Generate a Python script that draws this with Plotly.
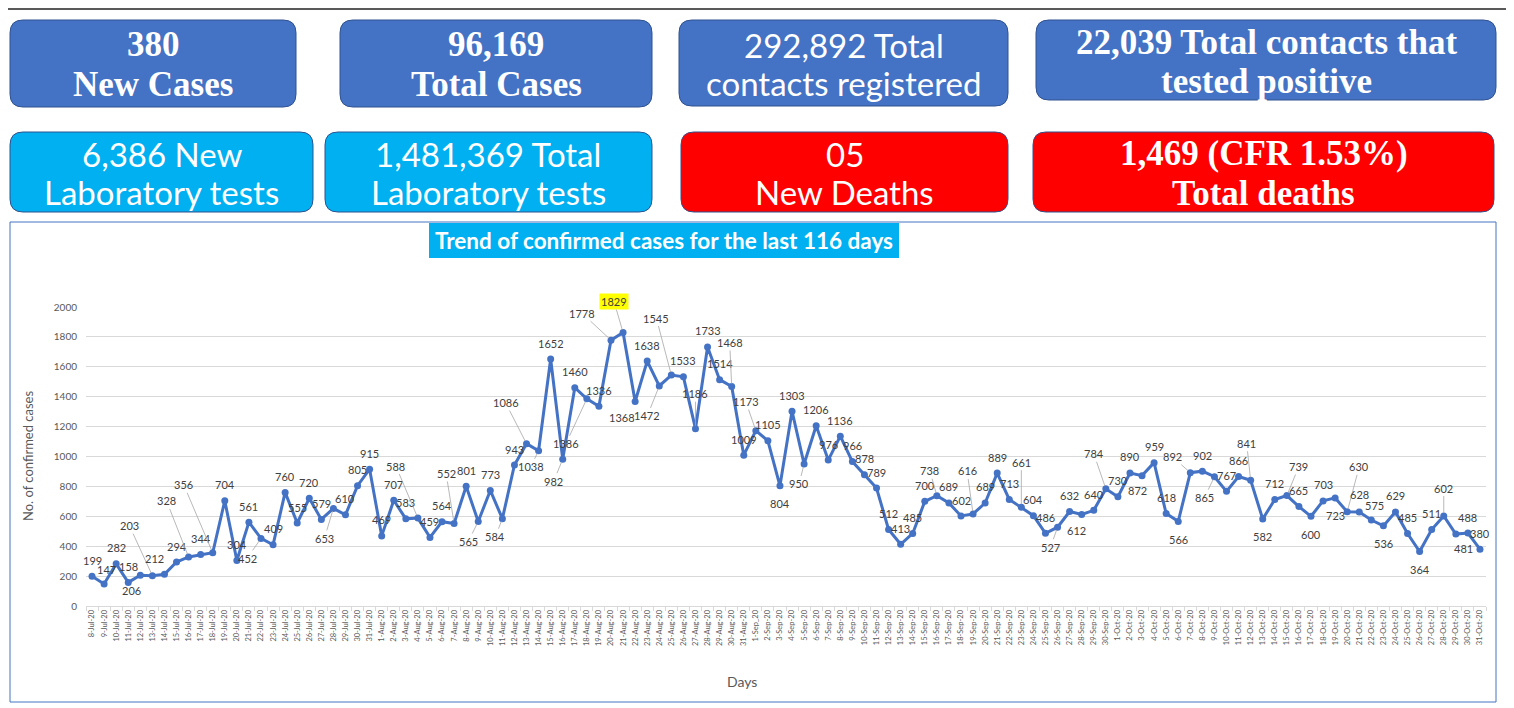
import pandas as pd
import plotly.graph_objects as go

# ---------------- data ----------------
days = [d.strftime("%-d-%b-%y") for d in pd.date_range("2020-07-08", "2020-10-31")]
days = [("1-Sep_20" if d == "1-Sep-20" else d) for d in days]

jul_cases = [199, 147, 282, 158, 206, 203, 212, 294, 328, 344, 356, 704, 304, 561,
             452, 409, 760, 555, 720, 579, 653, 610, 805, 915]
aug_cases = [469, 707, 583, 588, 459, 564, 552, 801, 565, 773, 584, 943, 1086, 1038,
             1652, 982, 1460, 1386, 1336, 1778, 1829, 1368, 1638, 1472, 1545, 1533,
             1186, 1733, 1514, 1468, 1009]
sep_cases = [1173, 1105, 804, 1303, 950, 1206, 976, 1136, 966, 878, 789, 512, 413, 485,
             700, 738, 689, 602, 616, 689, 889, 713, 661, 604, 486, 527, 632, 612, 640, 784]
oct_cases = [730, 890, 872, 959, 618, 566, 892, 902, 865, 767, 866, 841, 582, 712, 739,
             665, 600, 703, 723, 630, 628, 575, 536, 629, 485, 364, 511, 602, 481, 488, 380]
cases = jul_cases + aug_cases + sep_cases + oct_cases

y_ticks = list(range(0, 2001, 200))

kpi_lines = [
    ["380", "New Cases"],
    ["96,169", "Total Cases"],
    ["292,892 Total", "contacts registered"],
    ["22,039 Total contacts that", "tested positive"],
    ["6,386 New", "Laboratory tests"],
    ["1,481,369 Total", "Laboratory tests"],
    ["05", "New Deaths"],
    ["1,469 (CFR 1.53%)", "Total deaths"],
]

# ---------------- layout helpers (styling only) ----------------
# the page body adds an 8px margin; coordinates below are page pixels
OFF = 8
W_FIG, H_FIG = 1514 - OFF, 708 - OFF
PLOT_L, PLOT_R, PLOT_T, PLOT_B = 86, 1486, 307, 606  # page pixels
PW, PH = PLOT_R - PLOT_L, PLOT_B - PLOT_T
M_L, M_T = PLOT_L - OFF, PLOT_T - OFF
M_R, M_B = W_FIG - (PLOT_R - OFF), H_FIG - (PLOT_B - OFF)


def px(x):
    return (x - PLOT_L) / PW


def py(y):
    return (PLOT_B - y) / PH


BLUE, CYAN, RED = "#4472C4", "#00B0F0", "#FF0000"
kpi_style = [
    ((10, 20, 296, 107), BLUE, "serif", (44, 84)),
    ((340, 20, 652, 107), BLUE, "serif", (44, 84)),
    ((679, 20, 1008, 106), BLUE, "sans", (45, 83)),
    ((1036, 20, 1496, 100), BLUE, "serif", (42, 81)),
    ((10, 132, 313, 212), CYAN, "sans", (154, 192)),
    ((325, 132, 652, 212), CYAN, "sans", (154, 192)),
    ((681, 132, 1008, 212), RED, "sans", (154, 192)),
    ((1033, 132, 1494, 212), RED, "serif", (154, 193)),
]

# label offsets in pixels (dx, dy) and whether a leader line is drawn
label_override = {
    1: (2, -15, False), 4: (-9, 15, False), 5: (-23, -50, True), 6: (-10, -16, False),
    8: (-22, -56, True), 10: (-29, -68, True), 14: (-14, 20, True), 20: (-9, 30, True),
    27: (-22, -52, True), 30: (-8, -50, True), 32: (-10, 20, True), 34: (-7, 18, True),
    36: (-21, -41, True), 37: (-8, 16, True), 39: (-9, 22, True), 41: (-21, 45, True),
    43: (-29, -27, True), 44: (-9, -31, True), 45: (-13, 16, False), 47: (-12, 30, True),
    48: (-15, -57, True), 50: (0, -35, True), 53: (-2, -44, True), 55: (-10, -29, True),
    57: (0, 18, False), 59: (-5, 20, True), 70: (-7, -25, True), 73: (-6, -43, True),
    77: (0, -45, True), 80: (-7, 20, True), 82: (-5, 16, False), 84: (-12, -35, True),
    87: (-5, 15, False), 90: (0, 18, False), 91: (-18, -16, True), 93: (-10, 21, True),
    96: (-4, -37, True), 97: (0, 18, False), 99: (12, -29, True), 101: (0, 18, False),
    103: (0, 18, False), 104: (12, -45, True), 105: (0, -18, False), 106: (3, -15, False),
    107: (0, 18, False), 110: (0, 18, False), 112: (0, -28, True), 113: (8, 14, False),
}
highlight_idx = 44

fig = go.Figure()
fig.add_trace(go.Scatter(
    x=days, y=cases, mode="lines+markers",
    line=dict(color=BLUE, width=3),
    marker=dict(color=BLUE, size=7),
    hoverinfo="x+y", showlegend=False, cliponaxis=False,
))

annotations = []
label_font = dict(family="Lato, Open Sans, sans-serif", size=11, color="#404040")
for i, (d, v) in enumerate(zip(days, cases)):
    dx, dy, leader = label_override.get(i, (0, -16, False))
    bg = "#FFFF00" if i == highlight_idx else None
    if leader:
        annotations.append(dict(
            x=d, y=v, xref="x", yref="y", text=str(v), showarrow=True,
            ax=dx, ay=dy, arrowhead=0, arrowwidth=0.8, arrowcolor="#A6A6A6",
            standoff=3, font=label_font, bgcolor=bg, borderpad=1,
        ))
    else:
        annotations.append(dict(
            x=d, y=v, xref="x", yref="y", text=str(v), showarrow=False,
            xshift=dx, yshift=-dy, font=label_font, bgcolor=bg,
        ))

shapes = []


def rounded(x0, y0, x1, y1, r):
    rx, ry = r / PW, r / PH
    X0, X1, Y0, Y1 = px(x0), px(x1), py(y1), py(y0)
    return (f"M {X0+rx},{Y0} L {X1-rx},{Y0} Q {X1},{Y0} {X1},{Y0+ry} "
            f"L {X1},{Y1-ry} Q {X1},{Y1} {X1-rx},{Y1} L {X0+rx},{Y1} "
            f"Q {X0},{Y1} {X0},{Y1-ry} L {X0},{Y0+ry} Q {X0},{Y0} {X0+rx},{Y0} Z")


def paper_text(x, y, text, font, angle=0):
    return dict(x=px(x), y=py(y), xref="paper", yref="paper", text=text,
                showarrow=False, font=font, xanchor="center", yanchor="middle",
                textangle=angle)


serif_font = "Liberation Serif, Times New Roman, serif"
sans_font = "Lato, Open Sans, sans-serif"
for lines, (box, color, kind, ys) in zip(kpi_lines, kpi_style):
    x0, y0, x1, y1 = box
    shapes.append(dict(type="path", path=rounded(x0, y0, x1, y1, 13),
                       xref="paper", yref="paper", fillcolor=color,
                       line=dict(color="#2F528F", width=1), layer="above"))
    cx = (x0 + x1) / 2
    for txt, yy in zip(lines, ys):
        if kind == "serif":
            f = dict(family=serif_font, size=35, color="white")
            txt = f"<b>{txt}</b>"
        else:
            f = dict(family=sans_font, size=33, color="white")
        annotations.append(paper_text(cx, yy, txt, f))

# top rule
shapes.append(dict(type="line", xref="paper", yref="paper", x0=px(OFF), x1=px(1514),
                   y0=py(OFF + 1), y1=py(OFF + 1), line=dict(color="#595959", width=2)))
# chart frame
shapes.append(dict(type="rect", xref="paper", yref="paper", x0=px(10), x1=px(1496),
                   y0=py(702), y1=py(222), line=dict(color=BLUE, width=1), layer="below"))
# title box
shapes.append(dict(type="rect", xref="paper", yref="paper", x0=px(429), x1=px(899),
                   y0=py(258), y1=py(223), fillcolor=CYAN, line=dict(width=0), layer="below"))
annotations.append(paper_text(664, 241, "<b>Trend of confirmed cases for the last 116 days</b>",
                              dict(family=sans_font, size=22.5, color="white")))
# axis titles
annotations.append(paper_text(28, 456, "No. of confirmed cases",
                              dict(family=sans_font, size=13, color="#595959"), angle=-90))
annotations.append(paper_text(742, 681, "Days",
                              dict(family=sans_font, size=14, color="#595959")))

fig.update_layout(
    width=W_FIG, height=H_FIG,
    margin=dict(l=M_L, r=M_R, t=M_T, b=M_B, autoexpand=False),
    paper_bgcolor="white", plot_bgcolor="white",
    annotations=annotations, shapes=shapes,
    xaxis=dict(type="category", range=[-0.5, len(days) - 0.5], tickangle=-90,
               tickfont=dict(family=sans_font, size=7.5, color="#595959"),
               showgrid=False, showline=True, linecolor="#D9D9D9", linewidth=1,
               ticks="outside", tickson="boundaries", ticklen=4, tickcolor="#D9D9D9",
               fixedrange=True),
    yaxis=dict(range=[0, 2000], tickvals=y_ticks,
               tickfont=dict(family=sans_font, size=10, color="#595959"),
               showgrid=True, gridcolor="#D9D9D9", gridwidth=1, zeroline=False,
               showline=False, ticklabelstandoff=8, fixedrange=True),
)

fig.write_html("out.html")
